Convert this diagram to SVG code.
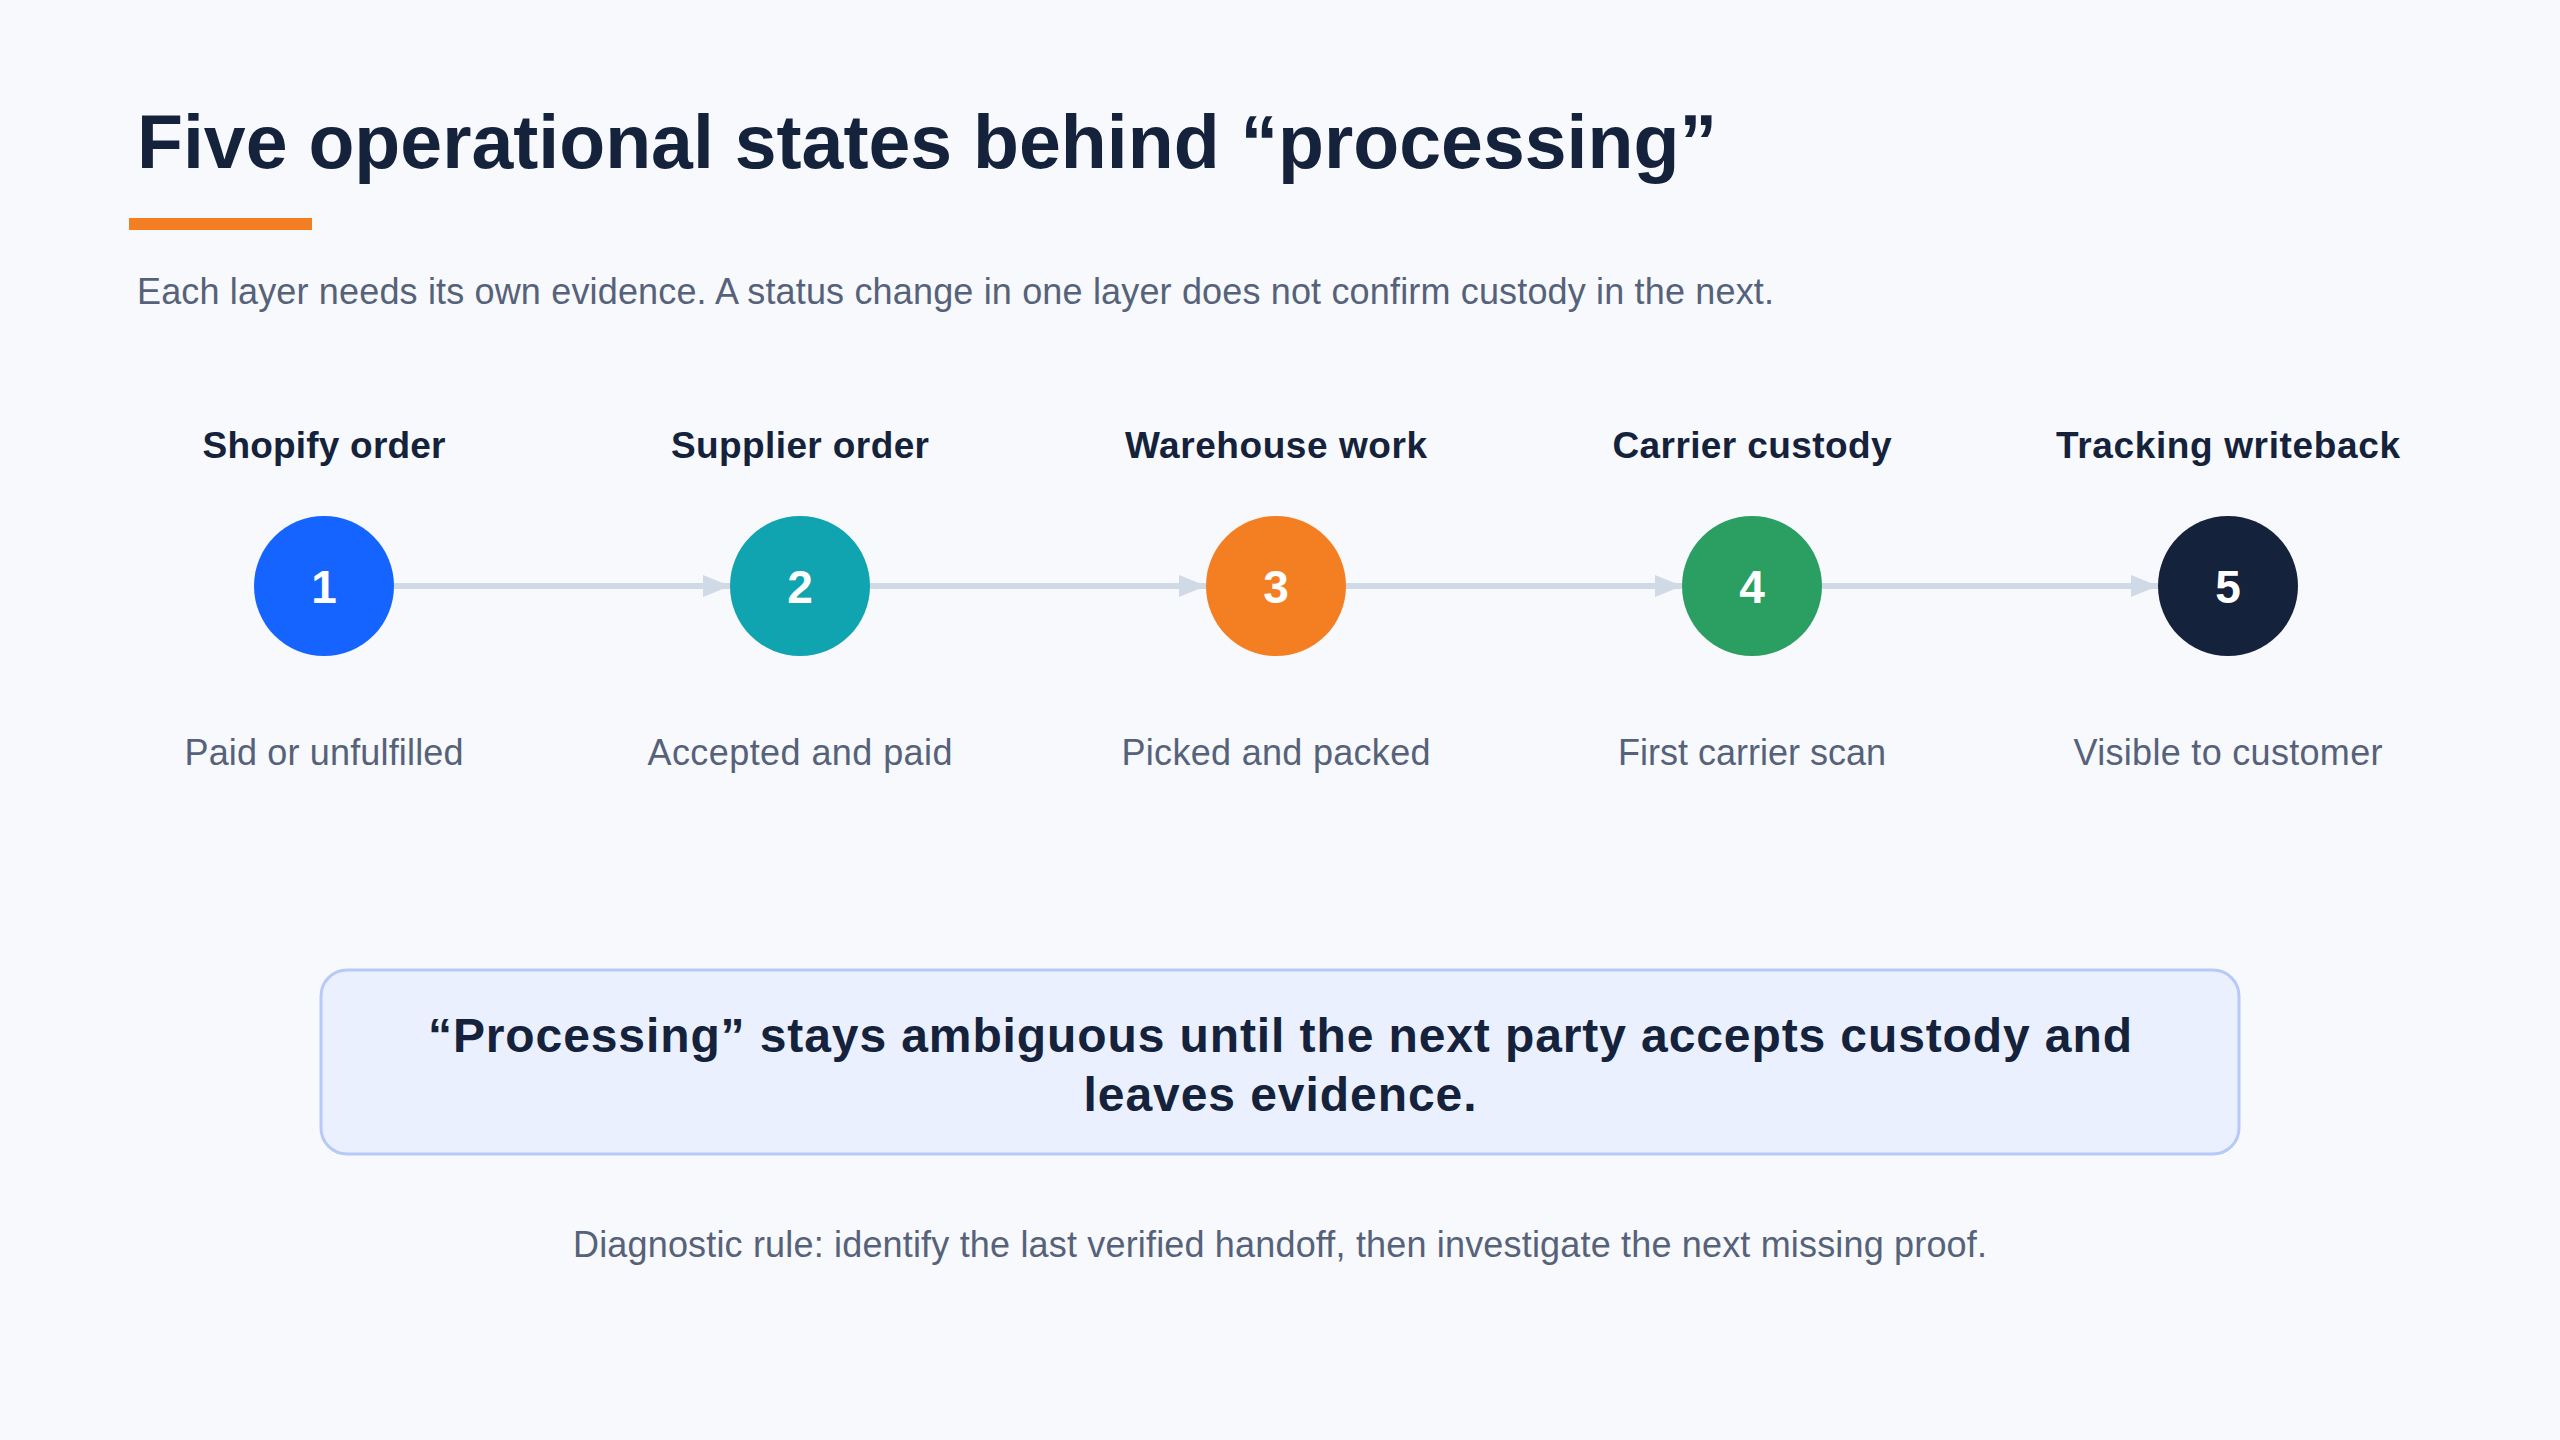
<svg xmlns="http://www.w3.org/2000/svg" width="2560" height="1440" viewBox="0 0 2560 1440">
<defs>
<style>
text{font-family:"Liberation Sans",Arial,sans-serif}
.title{font-size:75.5px;font-weight:700;fill:#15223b}
.sub{font-size:36px;fill:#56627a}
.lbl{font-size:37px;font-weight:700;fill:#15223b;text-anchor:middle}
.desc{font-size:36px;fill:#56627a;text-anchor:middle}
.num{font-size:46px;font-weight:700;fill:#ffffff;text-anchor:middle}
.conn{stroke:#d0d9e6;stroke-width:6;fill:none;marker-end:url(#ah)}
.callout{font-size:48px;font-weight:700;fill:#15223b;text-anchor:middle}
</style>
<marker id="ah" markerUnits="userSpaceOnUse" markerWidth="28" markerHeight="22" refX="27" refY="11" orient="auto">
<path d="M0,0 L27,11 L0,22 Z" fill="#d0d9e6"/>
</marker>
</defs>
<rect width="2560" height="1440" fill="#f7f9fc"/>
<text class="title" x="137" y="168" textLength="1580" lengthAdjust="spacingAndGlyphs">Five operational states behind “processing”</text>
<rect x="129" y="218" width="183" height="12" fill="#f47e22"/>
<text class="sub" x="137" y="304" textLength="1637">Each layer needs its own evidence. A status change in one layer does not confirm custody in the next.</text>
<g id="connectors">
<line class="conn" x1="394" y1="586" x2="730" y2="586"/>
<line class="conn" x1="870" y1="586" x2="1206" y2="586"/>
<line class="conn" x1="1346" y1="586" x2="1682" y2="586"/>
<line class="conn" x1="1822" y1="586" x2="2158" y2="586"/>
</g>
<g id="node1">
<text class="lbl" x="324" y="458" textLength="243">Shopify order</text>
<circle cx="324" cy="586" r="70" fill="#1664ff"/>
<text class="num" x="324" y="603">1</text>
<text class="desc" x="324" y="765" textLength="279">Paid or unfulfilled</text>
</g>
<g id="node2">
<text class="lbl" x="800" y="458" textLength="258">Supplier order</text>
<circle cx="800" cy="586" r="70" fill="#10a3b0"/>
<text class="num" x="800" y="603">2</text>
<text class="desc" x="800" y="765" textLength="305">Accepted and paid</text>
</g>
<g id="node3">
<text class="lbl" x="1276" y="458" textLength="302">Warehouse work</text>
<circle cx="1276" cy="586" r="70" fill="#f47e22"/>
<text class="num" x="1276" y="603">3</text>
<text class="desc" x="1276" y="765" textLength="309">Picked and packed</text>
</g>
<g id="node4">
<text class="lbl" x="1752" y="458" textLength="279">Carrier custody</text>
<circle cx="1752" cy="586" r="70" fill="#2b9e62"/>
<text class="num" x="1752" y="603">4</text>
<text class="desc" x="1752" y="765" textLength="268">First carrier scan</text>
</g>
<g id="node5">
<text class="lbl" x="2228" y="458" textLength="344">Tracking writeback</text>
<circle cx="2228" cy="586" r="70" fill="#15223b"/>
<text class="num" x="2228" y="603">5</text>
<text class="desc" x="2228" y="765" textLength="309">Visible to customer</text>
</g>
<g id="callout">
<rect x="321" y="970" width="1918" height="184" rx="26" fill="#eaf0fe" stroke="#b7c9f7" stroke-width="3"/>
<text class="callout" x="1280" y="1052" textLength="1704">“Processing” stays ambiguous until the next party accepts custody and</text>
<text class="callout" x="1280" y="1111" textLength="393">leaves evidence.</text>
</g>
<text class="desc" x="1280" y="1257" textLength="1414">Diagnostic rule: identify the last verified handoff, then investigate the next missing proof.</text>
</svg>
